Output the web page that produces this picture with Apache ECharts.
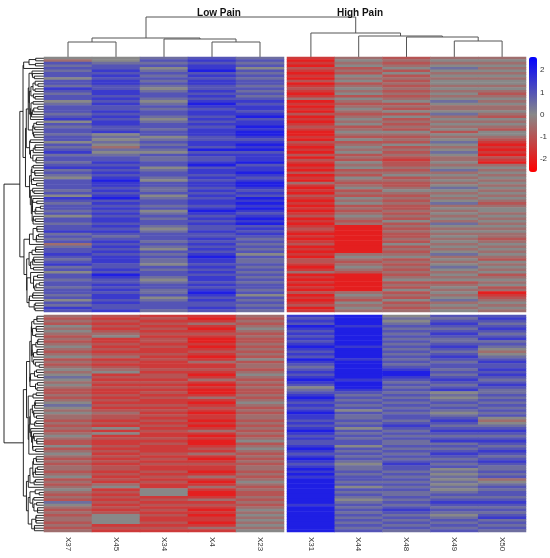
<!DOCTYPE html>
<html lang="en">
<head>
  <meta charset="UTF-8">
  <title>Low Pain vs High Pain</title>
  <script src="https://cdn.jsdelivr.net/npm/echarts@6/dist/echarts.min.js"></script>
  <style>
    html, body { margin: 0; padding: 0; background: #fff; }
    #main { width: 550px; height: 558px; }
  </style>
</head>
<body>
<div id="main"></div>
<script type="text/javascript">
  const lowPain = ['X37', 'X45', 'X34', 'X4', 'X23']
  const highPain = ['X31', 'X44', 'X48', 'X49', 'X50']
  const colorTicks = [-2, -1, 0, 1, 2]

  // one string per sample (same order as above), one digit per gene row
  // digit d stands for the value (d - 4) * 0.5
  const upperLowPain = [
    '4365656646 6576566456 6656746566 5664656756 6567565466 6656476566 5646656675 6563566765 6756466566 5665646576',
    '4456676767 7667767676 6767677667 4545435456 6767676787 7676786767 6767767676 5676767677 7667687667 6767767667',
    '5656456565 6545665456 5665456656 6456565465 5664566546 6556456656 4565665456 6656546565 5465665456 6556456665',
    '6767786767 7667676787 6776767677 7667768676 6786776767 7676767767 8767676676 6767676787 7676767767 6787676676',
    '5656465656 6565656767 7678677878 8767878677 7867787678 8767687878 7678786767 6565656465 5656565656 6564656565'
  ]
  const upperHighPain = [
    '1010210102 0121013010 1020101210 0102101020 2101020103 1010210101 0120101210 1012010102 2101301010 1020101201',
    '3434232434 2343424323 4323434234 3242343423 2434232432 3423243423 2343230000 0000000343 2343200000 0034324343',
    '2323424232 3232323423 2424232324 3232423232 1223234232 2343232322 3232423232 2324232342 3232323423 2423242323',
    '3434543434 4343434543 3453434342 4345434543 3434534343 4543434534 3434354343 4343434534 3454343423 4343453434',
    '3434343434 4343234343 3432434324 4321010102 1034343434 3434343234 4343434343 3234343432 4343423434 2301234343'
  ]
  const lowerLowPain = [
    '3232434323 2343234232 3434543432 2323454343 3232323432 2423432323 3234232343 2325432323 32323',
    '2121212341 1212123121 2341212121 1212121232 2121414121 1212121212 2121213412 1212121244 44121',
    '1212121212 2121121211 1212212121 2121121212 1212121121 2111212121 1212121144 4121212121 12121',
    '1013101210 0101210131 1210131010 0131012101 1010131010 0121310121 1013101310 0131210101 10131',
    '3232343232 2323232423 3234323232 2323432323 3232323234 2343232323 3232343232 2323234343 43434'
  ]
  const lowerHighPain = [
    '7676876767 6787676876 5676787645 6787676787 7676787676 6787678767 8787888888 8888788888 88888',
    '8888788888 8878888788 8888878887 6565656465 5656465656 6465656545 5656656465 6545656565 65656',
    '4545656565 6565656565 6788765656 5656565656 6567656565 5656565676 6565656565 5656567656 56565',
    '6567656765 5676567656 6565676567 4545656545 6765676567 5656765656 4545454545 6567656545 65656',
    '6765676567 5654345676 6767656765 5656565656 4345676567 6567656765 5656345656 6567656567 56565'
  ]

  // sample dendrogram: leaves 0..9 in display order,
  // merge k gets node id 10 + k, heights in the units of the tree axis
  const colMerge = [
    [0, 1, 15],
    [3, 4, 15],
    [2, 11, 18],
    [10, 12, 19],
    [8, 9, 16],
    [7, 14, 20],
    [6, 15, 21],
    [5, 16, 24],
    [13, 17, 40]
  ]
  const colTreeMax = 40

  const decode = s => s.replace(/ /g, '').split('').map(d => (Number(d) - 4) * 0.5)

  const blocks = [upperLowPain, upperHighPain, lowerLowPain, lowerHighPain].map(b => b.map(decode))
  const nUpper = blocks[0][0].length
  const nLower = blocks[2][0].length

  function _flat(a) { return [].concat.apply([], a) }
  const cells = cols => _flat(cols.map((vals, c) => vals.map((v, r) => [c, r, v])))

  // row vectors (10 samples each), standardised for the row clustering
  const rowVecs = []
  for (let r = 0; r < nUpper; r++) rowVecs.push(blocks[0].concat(blocks[1]).map(col => col[r]))
  for (let r = 0; r < nLower; r++) rowVecs.push(blocks[2].concat(blocks[3]).map(col => col[r]))
  const nRows = rowVecs.length
  const zRows = rowVecs.map(v => {
    const m = v.reduce((s, x) => s + x, 0) / v.length
    const sd = Math.sqrt(v.reduce((s, x) => s + (x - m) * (x - m), 0) / (v.length - 1)) || 1
    return v.map(x => (x - m) / sd)
  })

  const D = zRows.map(a => zRows.map(b => Math.sqrt(a.reduce((s, v, k) => s + (v - b[k]) * (v - b[k]), 0))))

  // complete linkage, only neighbouring groups may merge so the leaf order stays as drawn
  const rowMerge = []
  let nextId = nRows
  function cluster(ids) {
    let groups = ids.map(i => ({ id: i, members: [i], h: 0 }))
    while (groups.length > 1) {
      let best = 0, bestD = Infinity
      for (let g = 0; g < groups.length - 1; g++) {
        let d = 0
        for (const a of groups[g].members) for (const b of groups[g + 1].members) d = Math.max(d, D[a][b])
        if (d < bestD) { bestD = d; best = g }
      }
      const A = groups[best], B = groups[best + 1]
      const h = Math.max(bestD, A.h, B.h)
      rowMerge.push([A.id, B.id, h])
      groups.splice(best, 2, { id: nextId++, members: A.members.concat(B.members), h: h })
    }
    return groups[0]
  }
  const rowCats = n => { const a = []; for (let i = 0; i < n; i++) a.push(i); return a }
  const upperIds = rowCats(nUpper)
  const lowerIds = rowCats(nLower).map(i => i + nUpper)
  const upperRoot = cluster(upperIds)
  const lowerRoot = cluster(lowerIds)
  const rowRootH = Math.max.apply(null, _flat(upperIds.map(a => lowerIds.map(b => D[a][b]))))
  rowMerge.push([upperRoot.id, lowerRoot.id, rowRootH])

  const font = 'Liberation Sans'
  const hidden = { show: false }
  const catX = (data, labels) => ({
    type: 'category', data: data,
    axisLine: hidden, axisTick: hidden,
    axisLabel: labels ? { rotate: -90, margin: 5, fontSize: 8, color: '#333', fontFamily: font } : hidden
  })
  const catY = n => ({ type: 'category', data: rowCats(n), inverse: true, show: false })

  const Chart = echarts.init(document.getElementById('main'))

  const option = {
    animation: false,
    title: [
      { text: 'Low Pain', left: 214, top: 3, textAlign: 'center', textStyle: { fontSize: 10, fontWeight: 'bold', color: '#111', fontFamily: font } },
      { text: 'High Pain', left: 355, top: 3, textAlign: 'center', textStyle: { fontSize: 10, fontWeight: 'bold', color: '#111', fontFamily: font } }
    ],
    visualMap: {
      type: 'continuous', min: -2.6, max: 2.6, calculable: false,
      seriesIndex: [0, 1, 2, 3], orient: 'vertical',
      left: 529, top: 57, itemWidth: 8, itemHeight: 115, padding: 0,
      text: null, showLabel: false,
      inRange: { color: ['#ff0000', '#888888', '#0000ff'] }
    },
    grid: [
      { left: 44, top: 57, width: 240, height: 255 },
      { left: 287, top: 57, width: 239, height: 255 },
      { left: 44, top: 315, width: 240, height: 217 },
      { left: 287, top: 315, width: 239, height: 217 },
      { left: 529, top: 57, width: 8, height: 115 },
      { left: 44, top: 17, width: 482, height: 40 },
      { left: 4, top: 57, width: 40, height: 475 }
    ],
    xAxis: [
      Object.assign(catX(lowPain, false), { gridIndex: 0 }),
      Object.assign(catX(highPain, false), { gridIndex: 1 }),
      Object.assign(catX(lowPain, true), { gridIndex: 2 }),
      Object.assign(catX(highPain, true), { gridIndex: 3 }),
      { type: 'category', data: [''], gridIndex: 4, show: false },
      { type: 'value', gridIndex: 5, show: false },
      { type: 'value', gridIndex: 6, show: false, min: 0, max: rowRootH, inverse: true }
    ],
    yAxis: [
      Object.assign(catY(nUpper), { gridIndex: 0 }),
      Object.assign(catY(nUpper), { gridIndex: 1 }),
      Object.assign(catY(nLower), { gridIndex: 2 }),
      Object.assign(catY(nLower), { gridIndex: 3 }),
      {
        type: 'value', gridIndex: 4, min: -2.6, max: 2.6, position: 'right',
        axisLine: hidden, axisTick: hidden, splitLine: hidden,
        axisLabel: { customValues: colorTicks, margin: 3, fontSize: 8, color: '#333', fontFamily: font }
      },
      { type: 'value', gridIndex: 5, show: false, min: 0, max: colTreeMax },
      { type: 'value', gridIndex: 6, show: false }
    ],
    series: blocks.map((b, i) => ({
      type: 'heatmap', xAxisIndex: i, yAxisIndex: i,
      data: cells(b), progressive: 0,
      itemStyle: { borderWidth: 0 },
      emphasis: { disabled: true }
    }))
  }

  Chart.setOption(option)

  // dendrograms, positioned with the grids' own scales
  function treeLines(merges, leafPos, heightPx, vertical, stroke, width) {
    const pos = leafPos.slice(), hgt = leafPos.map(() => 0)
    const n = leafPos.length
    return merges.map((m, k) => {
      const a = m[0], b = m[1], h = m[2]
      const pa = pos[a], pb = pos[b]
      pos[n + k] = (pa + pb) / 2
      hgt[n + k] = h
      const ha = heightPx(hgt[a]), hb = heightPx(hgt[b]), hh = heightPx(h)
      const pts = vertical
        ? [[pa, ha], [pa, hh], [pb, hh], [pb, hb]]
        : [[ha, pa], [hh, pa], [hh, pb], [hb, pb]]
      return { type: 'polyline', silent: true, shape: { points: pts }, style: { stroke: stroke, lineWidth: width, fill: null } }
    })
  }

  const colLeafX = lowPain.concat(highPain).map((c, i) =>
    Chart.convertToPixel({ gridIndex: i < 5 ? 0 : 1 }, [i % 5, 0])[0])
  const colH = h => Chart.convertToPixel({ gridIndex: 5 }, [0, h])[1]

  const rowLeafY = rowCats(nRows).map(i => i < nUpper
    ? Chart.convertToPixel({ gridIndex: 0 }, [0, i])[1]
    : Chart.convertToPixel({ gridIndex: 2 }, [0, i - nUpper])[1])
  const rowH = h => Chart.convertToPixel({ gridIndex: 6 }, [h, 0])[0]

  Chart.setOption({
    graphic: {
      elements: treeLines(colMerge, colLeafX, colH, true, '#555', 1)
        .concat(treeLines(rowMerge, rowLeafY, rowH, false, '#111', 0.9))
    }
  })
</script>
</body>
</html>
